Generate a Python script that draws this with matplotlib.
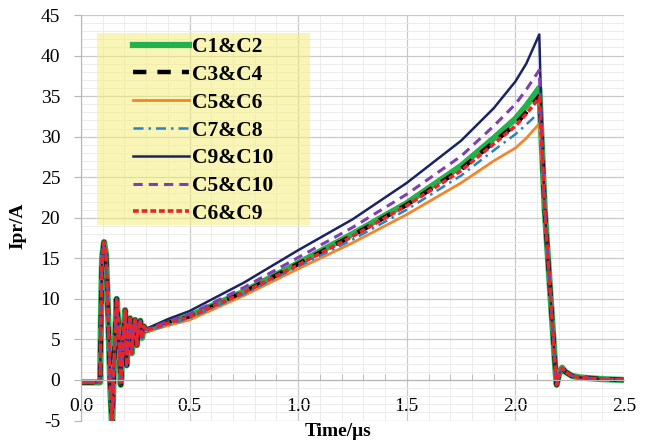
import matplotlib
matplotlib.use("Agg")
import matplotlib.pyplot as plt
from matplotlib.patches import Rectangle
from matplotlib.ticker import MultipleLocator
import numpy as np

plt.rcParams['font.family'] = ['Liberation Serif', 'DejaVu Serif']
plt.rcParams['axes.unicode_minus'] = False

# shared start of every trace (step + ringing), time in us
t_start = [0.00, 0.088, 0.092, 0.097, 0.106, 0.115, 0.125, 0.135, 0.143, 0.152,
           0.164, 0.174, 0.183, 0.193, 0.203, 0.210, 0.218, 0.226, 0.234, 0.241,
           0.249, 0.257, 0.265, 0.273, 0.281, 0.290]
v_start = [-0.3, -0.3, 8.0, 15.0, 17.0, 15.5, 8.0, -1.0, -6.0, 2.0,
           10.0, 6.0, -0.6, 4.5, 8.6, 1.8, 5.0, 7.6, 3.3, 6.0,
           7.4, 4.3, 6.6, 7.3, 5.2, 6.6]

# ramp + peak + fall
t_ramp = [0.30, 0.40, 0.50, 0.75, 1.00, 1.25, 1.50, 1.75, 1.90, 2.00, 2.05, 2.11,
          2.12, 2.135, 2.16, 2.185, 2.19, 2.20, 2.215, 2.23, 2.26, 2.30, 2.40, 2.50]
fall = [21.0, 11.0, 1.0, -0.6, 0.6, 1.5, 1.0, 0.5, 0.3, 0.1, 0.0]

ramp_c1c2 = [6.1, 7.0, 7.9, 10.9, 14.4, 18.0, 21.8, 26.4, 29.8, 32.2, 33.8, 36.0, 30.0]
ramp_c3c4 = [6.1, 7.0, 7.8, 10.8, 14.3, 17.8, 21.6, 26.0, 29.3, 31.5, 33.0, 35.0, 30.0]
ramp_c5c6 = [6.0, 6.7, 7.4, 10.4, 13.7, 16.9, 20.4, 24.3, 27.0, 28.6, 29.8, 31.6, 28.0]
ramp_c7c8 = [6.0, 6.8, 7.6, 10.6, 14.0, 17.3, 21.0, 25.2, 28.3, 30.3, 31.5, 33.0, 29.0]
ramp_c9c10 = [6.3, 7.5, 8.5, 12.0, 16.0, 19.8, 24.3, 29.5, 33.5, 36.8, 39.0, 42.6, 32.0]
ramp_c5c10 = [6.2, 7.2, 8.1, 11.4, 15.1, 18.8, 22.9, 27.6, 31.3, 34.0, 35.8, 38.2, 31.0]
ramp_c6c9 = [6.1, 7.0, 7.8, 10.8, 14.2, 17.7, 21.5, 25.8, 29.1, 31.3, 32.8, 34.8, 30.0]

labels = ["C1&C2", "C3&C4", "C5&C6", "C7&C8", "C9&C10", "C5&C10", "C6&C9"]
ramps = [ramp_c1c2, ramp_c3c4, ramp_c5c6, ramp_c7c8, ramp_c9c10, ramp_c5c10, ramp_c6c9]
colors = ["#22b14c", "#000000", "#f0862e", "#2a82c4", "#1b2462", "#7e3fb2", "#e8252a"]
styles = ["-", (0, (3.0, 2.5)), "-", (0, (4, 2, 1, 2)), "-", (0, (3, 2)), (0, (1.6, 0.8))]
widths = [4.5, 3.2, 2.0, 1.8, 1.8, 2.2, 2.6]

fig = plt.figure(figsize=(6.46, 4.45), dpi=100)
ax = fig.add_axes([81/646, 1-420.5/445, 543/646, 405.5/445])

t_all = np.array(t_start + t_ramp)
for lab, r, c, ls, lw in zip(labels, ramps, colors, styles, widths):
    v = np.array(v_start + r + fall)
    ax.plot(t_all, v, color=c, ls=ls, lw=lw, label=lab)

ax.set_xlim(0, 2.5)
ax.set_ylim(-5, 45)
ax.xaxis.set_major_locator(MultipleLocator(0.5))
ax.xaxis.set_minor_locator(MultipleLocator(0.1))
ax.yaxis.set_major_locator(MultipleLocator(5))
ax.yaxis.set_minor_locator(MultipleLocator(1))
ax.xaxis.set_major_formatter(matplotlib.ticker.FormatStrFormatter('%.1f'))
ax.grid(True, which='major', color='#c9c9c9', lw=0.9)
ax.grid(True, which='minor', color='#ececec', lw=0.7)
ax.set_axisbelow(True)

for s in ['top', 'right']:
    ax.spines[s].set_visible(False)
ax.spines['bottom'].set_position(('data', 0))
ax.spines['bottom'].set_color('#b5b5b5')
ax.spines['left'].set_color('#b5b5b5')
ax.tick_params(axis='x', which='major', length=0, pad=13, labelsize=14)
ax.tick_params(axis='x', which='minor', direction='in', length=4, color='#b5b5b5')
ax.tick_params(axis='y', which='major', length=5, color='#b5b5b5', pad=10, labelsize=14)
ax.tick_params(axis='y', which='minor', length=0)

ax.add_patch(Rectangle((0.074, 19.1), 0.98, 23.7, facecolor='#f5ee7a', alpha=0.55,
                       edgecolor='none', zorder=1.5))
leg = ax.legend(loc='upper left', bbox_to_anchor=(133/646, 1-37/445),
                bbox_transform=fig.transFigure, frameon=False,
                prop={'weight': 'bold', 'size': 15.5}, handlelength=2.6,
                handletextpad=0.12, labelspacing=0.36, borderpad=0, borderaxespad=0)

fig.text(338/646, 1-432/445, "Time/μs", ha='center', va='center',
         fontsize=14, fontweight='bold')
fig.text(18/646, 1-226/445, "Ipr/A", ha='center', va='center', rotation=90,
         fontsize=14, fontweight='bold')

fig.savefig("out.png", dpi=100)
